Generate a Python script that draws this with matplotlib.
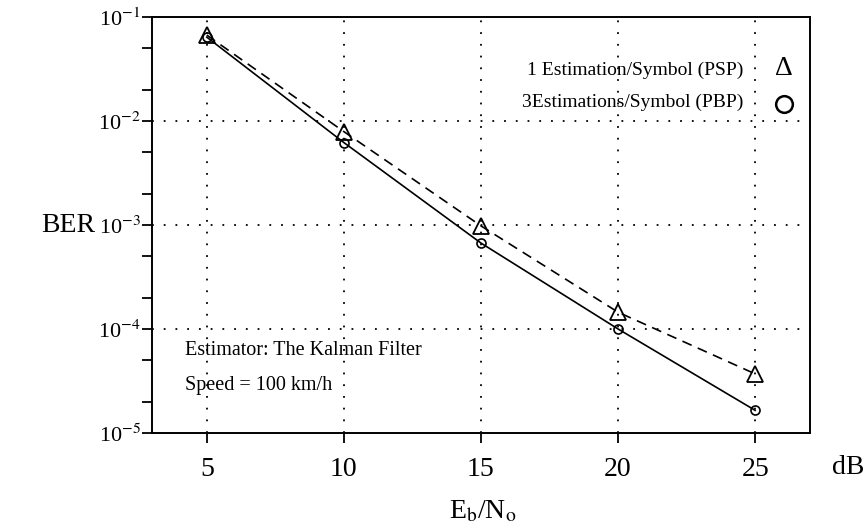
import matplotlib
matplotlib.use("Agg")
import matplotlib.pyplot as plt
import matplotlib.transforms as mtransforms
from matplotlib.ticker import LogLocator, FixedLocator, NullFormatter

plt.rcParams['font.family'] = ['Liberation Serif', 'DejaVu Serif']
plt.rcParams['mathtext.fontset'] = 'stix'

snr_db = [5, 10, 15, 20, 25]
ber_psp = [0.067, 0.0079, 0.00098, 1.45e-4, 3.7e-5]   # 1 estimation/symbol
ber_pbp = [0.064, 0.0062, 0.00067, 1.0e-4, 1.65e-5]   # 3 estimations/symbol

x_ticks = [5, 10, 15, 20, 25]
y_ticks = [1e-5, 1e-4, 1e-3, 1e-2, 1e-1]
y_labels = ["10$^{-5}$", "10$^{-4}$", "10$^{-3}$", "10$^{-2}$", "10$^{-1}$"]

fig = plt.figure(figsize=(8.66, 5.28), dpi=100)
ax = fig.add_axes([0.1755, 0.18, 0.7598, 0.7878])

ax.plot(snr_db, ber_psp, color='black', lw=1.2, ls=(0, (6, 4)),
        marker='^', ms=11, mfc='none', mec='black', mew=1.3)
ax.plot(snr_db, ber_pbp, color='black', lw=1.2, ls='-',
        marker='o', ms=6.5, mfc='none', mec='black', mew=1.2)

ax.set_yscale('log')
ax.set_xlim(3, 27)
ax.set_ylim(1e-5, 1e-1)

ax.set_xticks(x_ticks)
ax.set_xticklabels([str(v) for v in x_ticks], fontsize=20)
ax.yaxis.set_major_locator(FixedLocator(y_ticks))
ax.set_yticklabels(y_labels, fontsize=16)
# nudge the y labels a little down, like the original
shift = mtransforms.ScaledTranslation(0, -3 / 100, fig.dpi_scale_trans)
for lab in ax.get_yticklabels():
    lab.set_transform(lab.get_transform() + shift)
ax.yaxis.set_minor_locator(LogLocator(base=10, subs=[2, 5]))
ax.yaxis.set_minor_formatter(NullFormatter())

ax.tick_params(axis='both', which='both', direction='out', length=7, width=1.3)
ax.tick_params(axis='x', pad=10)
ax.tick_params(axis='y', pad=1)

for s in ax.spines.values():
    s.set_linewidth(1.4)

for xv in x_ticks:
    ax.axvline(xv, color='black', lw=1.3, ls=(0, (1, 5.5)), zorder=0)
for yv in y_ticks[1:-1]:
    ax.axhline(yv, color='black', lw=1.3, ls=(0, (1, 5.5)), zorder=0)

# legend drawn as text + symbols
ax.text(0.899, 0.872, "1 Estimation/Symbol (PSP)", transform=ax.transAxes,
        ha='right', va='center', fontsize=14)
ax.text(0.899, 0.794, "3Estimations/Symbol (PBP)", transform=ax.transAxes,
        ha='right', va='center', fontsize=14)
ax.text(0.96, 0.876, "Δ", transform=ax.transAxes, ha='center', va='center',
        fontsize=20)
ax.plot([0.96], [0.792], transform=ax.transAxes, marker='o', ms=12,
        mfc='none', mec='black', mew=1.8, ls='none')

ax.text(0.05, 0.199, "Estimator: The Kalman Filter", transform=ax.transAxes,
        ha='left', va='center', fontsize=14.5)
ax.text(0.05, 0.115, "Speed = 100 km/h", transform=ax.transAxes,
        ha='left', va='center', fontsize=14.5)

fig.text(68 / 866, 1 - 225 / 528, "BER", ha='center', va='center', fontsize=20)
fig.text(848 / 866, 1 - 468 / 528, "dB", ha='center', va='center', fontsize=20)
fig.text(483 / 866, 1 - 512 / 528, "E$_\\mathrm{b}$/N$_\\mathrm{o}$",
         ha='center', va='center', fontsize=20)

fig.savefig("out.png", dpi=100)
